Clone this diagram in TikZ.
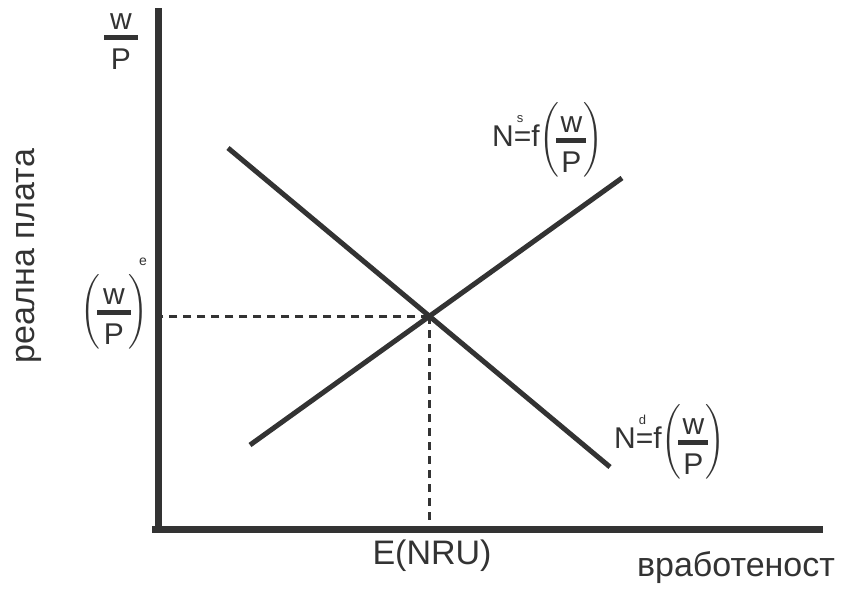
\documentclass[tikz,border=0pt]{standalone}
\usepackage{amsmath}
\usepackage{fontspec}
\setmainfont{Liberation Sans}
\usetikzlibrary{calc}
\definecolor{ink}{HTML}{333333}
\newcommand{\wfrac}[1]{\genfrac{}{}{5pt}{1}{\mbox{\makebox[#1]{w}}}{\mbox{\rule{0pt}{25pt}P}}}
\begin{document}
\begin{tikzpicture}[x=1pt,y=-1pt,
  axis/.style={line width=7pt,draw=ink},
  curve/.style={line width=5pt,draw=ink},
  guide/.style={line width=3pt,draw=ink,dash pattern=on 8pt off 6pt},
  lab/.style={text=ink,inner sep=0pt,font=\fontsize{34}{40}\selectfont},
  flab/.style={text=ink,inner sep=0pt,font=\fontsize{30}{36}\selectfont},
  slab/.style={text=ink,inner sep=0pt,font=\fontsize{14}{14}\selectfont}]
\useasboundingbox (0,0) rectangle (853,589);
% axes
\coordinate (yt) at (158,8);
\coordinate (xo) at (158,529);
\coordinate (xe) at (823,529);
\coordinate (xs) at (152,529);
\draw[axis] (yt) -- (xo |- 0,532);
\draw[axis] (xs) -- (xe);
% curves
\coordinate (d1) at (228,148);
\coordinate (d2) at (610,467);
\coordinate (s1) at (250,445);
\coordinate (s2) at (622,178);
\draw[curve] (d1) -- (d2);
\draw[curve] (s1) -- (s2);
\coordinate (eq) at (intersection of d1--d2 and s1--s2);
\draw[guide] (eq) -- (eq -| xo);
\draw[guide] (eq) -- (eq |- xo);
% labels
\node[flab] (ylab) at (121,42) {$\wfrac{34pt}$};
\node[lab,rotate=90] (yname) at (29,256) {реална плата};
\node[flab] (weq) at (114,312) {$\left(\!\wfrac{34pt}\!\right)$};
\node[slab] (esup) at (143,262) {e};
\node[flab,anchor=west] (ns) at (492,140) {N\rlap{\raisebox{24pt}{\fontsize{13}{13}\selectfont\kern3pt s}}=f$\left(\!\wfrac{30pt}\!\right)$};
\node[flab,anchor=west] (nd) at (614,442) {N\rlap{\raisebox{24pt}{\fontsize{13}{13}\selectfont\kern3pt d}}=f$\left(\!\wfrac{30pt}\!\right)$};
\node[lab] (enru) at (432,556) {E(NRU)};
\node[lab] (emp) at (736,568) {вработеност};
\end{tikzpicture}
\end{document}
